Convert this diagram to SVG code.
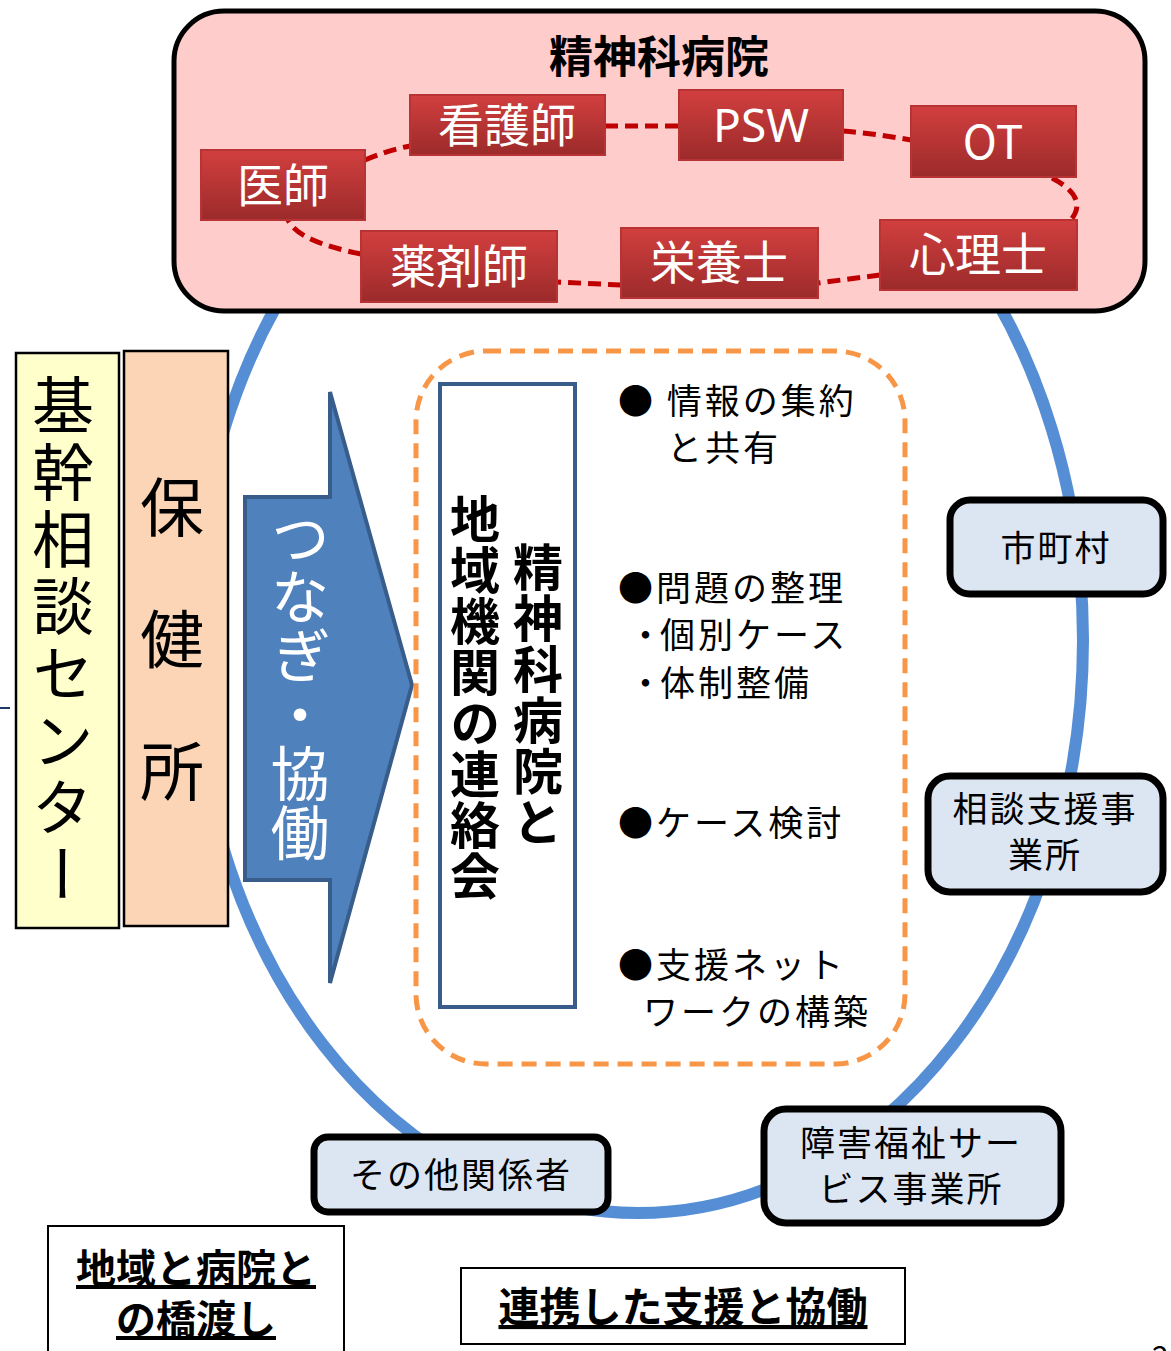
<svg xmlns="http://www.w3.org/2000/svg" width="1171" height="1351" viewBox="0 0 1171 1351">
<defs>
<linearGradient id="red" x1="0" y1="0" x2="0" y2="1">
<stop offset="0" stop-color="#d23f3f"/>
<stop offset="1" stop-color="#9c2a2a"/>
</linearGradient>
<style>
.jp{font-family:"Noto Sans CJK JP","Noto Sans",sans-serif;}
.staff rect{fill:url(#red);stroke:#b83434;stroke-width:2;}
.staff text{fill:#fff;font-size:46px;text-anchor:middle;}
.org rect{fill:#dce6f2;stroke:#000;stroke-width:7;}
.org text{fill:#000;font-size:35px;text-anchor:middle;letter-spacing:2px;}
.dash{fill:none;stroke:#c00000;stroke-width:5;stroke-dasharray:13 7;}
.vt{writing-mode:vertical-rl;}
.bul{font-size:35px;letter-spacing:3px;fill:#000;}
</style>
</defs>
<rect width="1171" height="1351" fill="#fff"/>
<line x1="0" y1="708" x2="10" y2="708" stroke="#1f3864" stroke-width="2"/>
<g id="ring"><ellipse cx="638" cy="640" rx="445" ry="573" fill="none" stroke="#558ed5" stroke-width="12"/></g>

<g id="hospital">
<rect x="174" y="11" width="971" height="300" rx="50" fill="#ffcccc" stroke="#000" stroke-width="5"/>
<text class="jp" x="659" y="73" font-size="44" font-weight="bold" text-anchor="middle">精神科病院</text>
</g>

<g id="connectors">
<path class="dash" d="M365,160 Q388,150 410,146"/>
<path class="dash" d="M605,126 L679,126"/>
<path class="dash" d="M843,131 Q877,134 911,140"/>
<path class="dash" d="M1052,178 Q1090,198 1070,221"/>
<path class="dash" d="M880,275 L818,283"/>
<path class="dash" d="M621,285 L557,282"/>
<path class="dash" d="M361,254 C322,246 296,236 288,220"/>
</g>

<g id="n-kango" class="staff jp"><rect x="410" y="95" width="195" height="60"/><text x="507" y="142">看護師</text></g>
<g id="n-psw" class="staff jp"><rect x="679" y="90" width="164" height="70"/><text x="761" y="142" font-family="'Noto Sans',sans-serif">PSW</text></g>
<g id="n-ot" class="staff jp"><rect x="911" y="106" width="165" height="71"/><text x="993" y="159">OT</text></g>
<g id="n-ishi" class="staff jp"><rect x="201" y="150" width="164" height="70"/><text x="283" y="202">医師</text></g>
<g id="n-yakuzai" class="staff jp"><rect x="361" y="231" width="196" height="71"/><text x="459" y="283">薬剤師</text></g>
<g id="n-eiyo" class="staff jp"><rect x="621" y="228" width="197" height="70"/><text x="719" y="279">栄養士</text></g>
<g id="n-shinri" class="staff jp"><rect x="880" y="220" width="197" height="70"/><text x="978" y="271">心理士</text></g>

<g id="kikan">
<rect x="16" y="353" width="103" height="575" fill="#ffffcc" stroke="#000" stroke-width="2.5"/>
<text class="jp vt" x="63" y="374" font-size="62" letter-spacing="5">基幹相談センター</text>
</g>
<g id="hokenjo">
<rect x="124" y="351" width="104" height="575" fill="#fbd5b5" stroke="#000" stroke-width="2.5"/>
<text class="jp vt" x="172" y="475" font-size="64" letter-spacing="68">保健所</text>
</g>

<g id="arrow">
<path d="M245,497 L330,497 L330,392 L412,685 L330,983 L330,880 L245,880 Z" fill="#4f81bd" stroke="#385d8a" stroke-width="4" stroke-linejoin="miter"/>
<text class="jp vt" x="300" y="508" font-size="59" fill="#fff">つなぎ・協働</text>
</g>

<g id="meeting">
<rect x="416" y="351" width="489" height="713" rx="70" fill="none" stroke="#f79646" stroke-width="5" stroke-dasharray="15 9"/>
<rect x="440" y="384" width="135" height="623" fill="#fff" stroke="#385d8a" stroke-width="4"/>
<text class="jp vt" x="538" y="542" font-size="50" font-weight="bold" letter-spacing="1">精神科病院と</text>
<text class="jp vt" x="475" y="494" font-size="50" font-weight="bold" letter-spacing="1">地域機関の連絡会</text>
<g class="jp bul">
<text x="618" y="414">● 情報の集約</text>
<text x="667" y="461">と共有</text>
<text x="618" y="601">●問題の整理</text>
<text x="628" y="648">・<tspan dx="-6">個別ケース</tspan></text>
<text x="628" y="696">・<tspan dx="-6">体制整備</tspan></text>
<text x="618" y="836">●ケース検討</text>
<text x="618" y="978">●支援ネット</text>
<text x="643" y="1025">ワークの構築</text>
</g>
</g>

<g id="n-shichoson" class="org jp"><rect x="950" y="500" width="213" height="94" rx="20"/><text x="1056" y="561">市町村</text></g>
<g id="n-sodan" class="org jp"><rect x="928" y="776" width="235" height="116" rx="22"/><text x="1045" y="822">相談支援事</text><text x="1045" y="868">業所</text></g>
<g id="n-shogai" class="org jp"><rect x="764" y="1109" width="297" height="114" rx="22"/><text x="911" y="1156">障害福祉サー</text><text x="911" y="1202">ビス事業所</text></g>
<g id="n-sonota" class="org jp"><rect x="314" y="1137" width="294" height="75" rx="14"/><text x="461" y="1188">その他関係者</text></g>

<g id="note-left">
<rect x="48" y="1226" width="296" height="140" fill="#fff" stroke="#000" stroke-width="2"/>
<text class="jp" x="196" y="1283" font-size="40" font-weight="bold" text-anchor="middle" text-decoration="underline">地域と病院と</text>
<text class="jp" x="196" y="1334" font-size="40" font-weight="bold" text-anchor="middle" text-decoration="underline">の橋渡し</text>
</g>
<g id="note-center">
<rect x="461" y="1268" width="444" height="76" fill="#fff" stroke="#000" stroke-width="2"/>
<text class="jp" x="683" y="1322" font-size="41" font-weight="bold" text-anchor="middle" text-decoration="underline">連携した支援と協働</text>
</g>
<text class="jp" x="1152" y="1368" font-size="30">2</text>
</svg>
